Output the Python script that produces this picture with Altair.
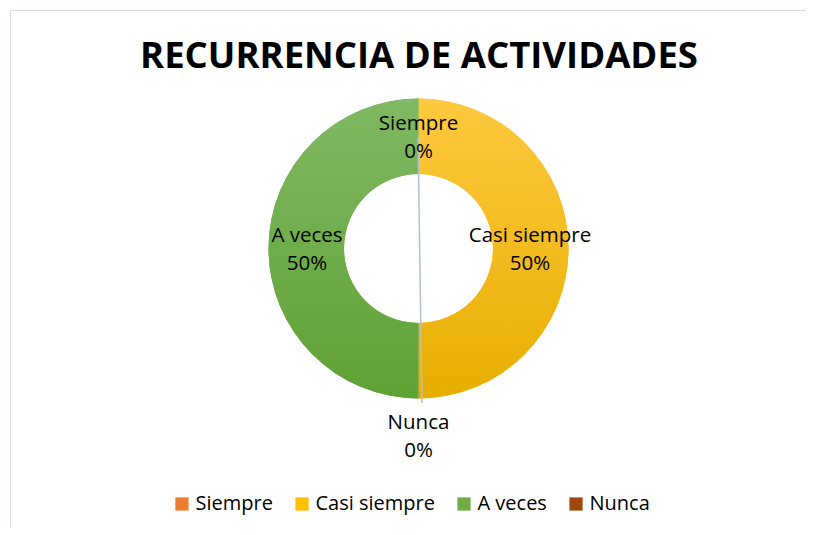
import math
import altair as alt
import pandas as pd

# ---- data ----
categories = ["Siempre", "Casi siempre", "A veces", "Nunca"]
values = [0, 50, 50, 0]
colors = ["#ED7D31", "#FFC000", "#70AD47", "#9E480E"]
title_text = "RECURRENCIA DE ACTIVIDADES"

df = pd.DataFrame({"cat": categories, "value": values, "order": list(range(len(categories)))})

FONT = "Open Sans"
CX, CY = 408.5, 238.5
R_OUT, R_IN = 150, 74.5

base = (
    alt.Chart(df)
    .transform_joinaggregate(total="sum(value)")
    .transform_calculate(pct="datum.value / datum.total")
    .transform_stack(stack="value", groupby=[], as_=["v0", "v1"], sort=[alt.SortField("order")])
    .transform_calculate(
        mid="(datum.v0 + datum.v1) / 2",
        label="datum.cat + '\\n' + format(datum.pct, '.0%')",
    )
)

theta_scale = alt.Scale(domain=[0, 100])
center = dict(x=alt.value(CX), y=alt.value(CY))


def grad(c1, c2):
    return alt.LinearGradient(
        gradient="linear",
        stops=[alt.GradientStop(color=c1, offset=0), alt.GradientStop(color=c2, offset=1)],
        x1=0, x2=0, y1=0, y2=1,
    )


arcs = base.mark_arc(outerRadius=R_OUT, innerRadius=R_IN).encode(
    theta=alt.Theta("v0:Q", scale=theta_scale),
    theta2="v1:Q",
    color=alt.Color(
        "cat:N",
        scale=alt.Scale(domain=categories, range=colors),
        legend=alt.Legend(
            orient="none", legendX=162, legendY=484, direction="horizontal", title=None,
            symbolType="square", symbolSize=175, symbolStrokeWidth=0,
            labelFont=FONT, labelFontSize=20, labelColor="#000000",
            columnPadding=19, labelOffset=3.5,
        ),
    ),
    **center,
)

yellow = base.transform_filter("datum.cat === 'Casi siempre'").mark_arc(
    outerRadius=R_OUT, innerRadius=R_IN, color=grad("#FFC93F", "#E6AE00")
).encode(theta=alt.Theta("v0:Q", scale=theta_scale), theta2="v1:Q", **center)

green = base.transform_filter("datum.cat === 'A veces'").mark_arc(
    outerRadius=R_OUT, innerRadius=R_IN, color=grad("#7FB963", "#60A134")
).encode(theta=alt.Theta("v0:Q", scale=theta_scale), theta2="v1:Q", **center)

leader = base.transform_filter("datum.cat === 'Nunca'").mark_rule(
    color="#B4C0D3", strokeWidth=1.5
).encode(x=alt.value(408), y=alt.value(127), x2=alt.value(412), y2=alt.value(393))

labels = base.transform_filter("datum.cat !== 'Nunca'").mark_text(
    radius=111.5, font=FONT, fontSize=20.5, lineBreak="\n", lineHeight=28, dy=-13,
    color="#000000", align="center", baseline="middle",
).encode(theta=alt.Theta("mid:Q", scale=theta_scale), text="label:N", **center)

nunca_label = base.transform_filter("datum.cat === 'Nunca'").mark_text(
    radius=188.5, font=FONT, fontSize=20.5, lineBreak="\n", lineHeight=28, dy=-14,
    color="#000000", align="center", baseline="middle",
).encode(theta=alt.value(math.pi), text="label:N", **center)

title = base.transform_filter("datum.cat === 'Siempre'").mark_text(
    font=FONT, fontSize=36.5, fontWeight="bold", color="#000000", align="center", baseline="middle"
).encode(text=alt.value(title_text), x=alt.value(409), y=alt.value(47))

frame_top = base.transform_filter("datum.cat === 'Siempre'").mark_rule(
    color="#D9DCE6", strokeWidth=1
).encode(x=alt.value(0), x2=alt.value(900), y=alt.value(0.5))

frame_left = base.transform_filter("datum.cat === 'Siempre'").mark_rule(
    color="#D9DCE6", strokeWidth=1
).encode(x=alt.value(0.5), y=alt.value(0), y2=alt.value(900))

chart = (
    alt.layer(arcs, yellow, green, leader, labels, nunca_label, title, frame_top, frame_left)
    .properties(
        width=796,
        height=517,
        autosize=alt.AutoSizeParams(type="none"),
        padding={"left": 2, "top": 2, "right": 0, "bottom": 0},
        background="#FFFFFF",
    )
    .configure_view(stroke=None)
)

chart.save("out.html", embed_options={"renderer": "svg", "actions": False})
